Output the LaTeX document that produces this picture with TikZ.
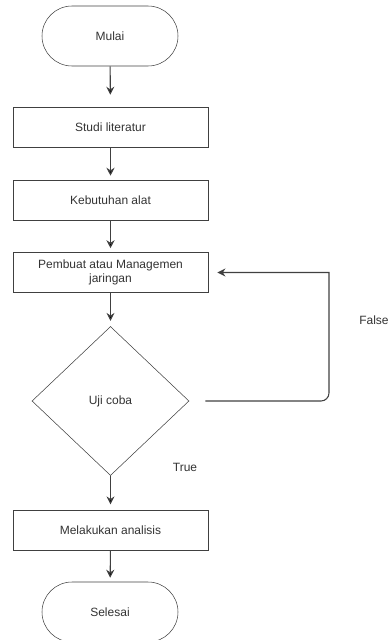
\documentclass[tikz,border=0pt]{standalone}
\usepackage{fontspec}
\setmainfont{Liberation Sans}
\usetikzlibrary{shapes.geometric,arrows.meta}

\begin{document}
\begin{tikzpicture}[x=0.75pt,y=-0.75pt,font=\fontsize{9pt}{11pt}\selectfont,
    terminal/.style={shape=rectangle,draw=black!75,rounded corners=22.5pt,minimum width=102pt,minimum height=45pt,text=black!80},
    process/.style={shape=rectangle,draw=black!75,minimum width=146pt,minimum height=30pt,align=center,text=black!80},
    decision/.style={shape=diamond,draw=black!75,minimum width=117.75pt,minimum height=111.75pt,aspect=1.05,inner sep=0pt,text=black!80},
    flow/.style={draw=black!75,line width=0.8pt,-{Stealth[length=6pt,width=6pt]}},
    label/.style={text=black!80}]
        \useasboundingbox (0,0) rectangle (390,640);

        \node[terminal] (mulai) at (110,36) {Mulai};
        \node[process] (studi) at (110.5,127) {Studi literatur};
        \node[process] (kebutuhan) at (110.5,200) {Kebutuhan alat};
        \node[process] (pembuat) at (110.5,272.5) {Pembuat atau Managemen\\jaringan};
        \node[decision] (uji) at (110.5,401) {Uji coba};
        \node[process] (analisis) at (110.5,530) {Melakukan analisis};
        \node[terminal] (selesai) at (110,612) {Selesai};

        \node[label] (false) at (374,320) {False};
        \node[label] (true) at (185,467) {True};

        \coordinate (corner) at (329,401);
        \coordinate (loop) at (329,272.5);

        \path [flow,shorten >=9pt](mulai) edge (studi);
        \path [flow,shorten >=3pt](studi) edge (kebutuhan);
        \path [flow,shorten >=3pt](kebutuhan) edge (pembuat);
        \path [flow,shorten >=4pt](pembuat) edge (uji);
        \path [flow,shorten >=4pt](uji) edge (analisis);
        \path [flow,shorten >=3pt](analisis) edge (selesai);
        \draw [flow,shorten <=12pt,shorten >=7pt](uji.east) [rounded corners=6pt] -- (corner) [sharp corners] -- (loop) -- (pembuat.east);
\end{tikzpicture}
\end{document}
